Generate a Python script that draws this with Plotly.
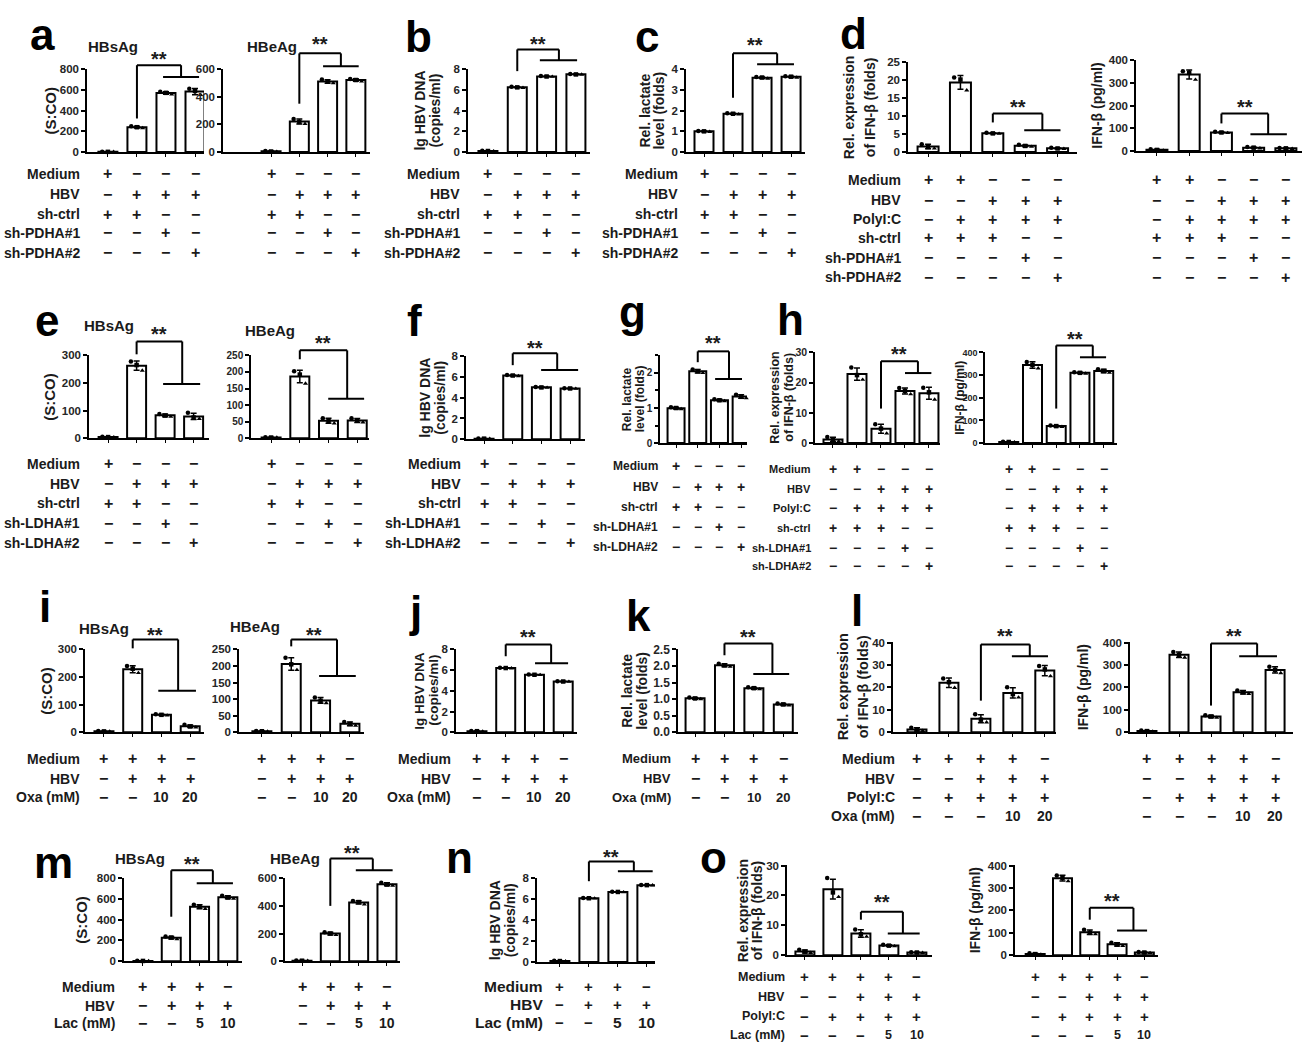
import numpy as np
import plotly.graph_objects as go

W, H = 1304, 1052
FONT = "Liberation Sans, Arial, Helvetica, sans-serif"
INK = "#1b1b1b"
MINUS = "\u2212"

# ---------------- data (replicates per bar) ----------------
a_hbsag = [[3, 2, 2], [250, 240, 232], [582, 572, 558], [612, 590, 552]]
a_hbeag = [[8, 4, 3], [240, 218, 205], [525, 510, 500], [530, 522, 512]]
b_dna = [[0.12, 0.1, 0.08], [6.3, 6.25, 6.2], [7.35, 7.3, 7.28], [7.55, 7.5, 7.48]]
c_lac = [[1.02, 1.0, 0.98], [1.88, 1.85, 1.82], [3.62, 3.6, 3.55], [3.66, 3.64, 3.6]]
d_rel = [[2.2, 1.4, 1.0], [20.8, 20.2, 17.2], [5.4, 5.2, 5.1], [2.0, 1.7, 1.5], [1.2, 1.0, 0.9]]
d_ifn = [[8, 5, 3], [352, 345, 315], [85, 82, 80], [18, 15, 12], [14, 12, 10]]
e_hbsag = [[5, 4, 3], [278, 265, 245], [88, 82, 78], [92, 75, 70]]
e_hbeag = [[3, 2, 2], [202, 192, 165], [60, 52, 45], [60, 53, 48]]
f_dna = [[0.06, 0.05, 0.04], [6.2, 6.15, 6.1], [5.05, 5.0, 4.98], [4.92, 4.9, 4.88]]
g_lac = [[1.02, 1.0, 0.97], [2.1, 2.05, 2.0], [1.25, 1.22, 1.2], [1.38, 1.32, 1.28]]
h_rel = [[2.0, 1.1, 0.6], [25.0, 22.5, 21.0], [6.2, 4.8, 3.2], [18.2, 17.3, 16.2], [18.3, 16.8, 14.4]]
h_ifn = [[6, 5, 4], [358, 345, 330], [78, 75, 72], [313, 310, 307], [326, 318, 311]]
i_hbsag = [[4, 3, 3], [240, 230, 215], [65, 63, 61], [27, 21, 18]]
i_hbeag = [[4, 3, 2], [225, 205, 188], [105, 95, 88], [31, 25, 20]]
j_dna = [[0.12, 0.1, 0.08], [6.22, 6.2, 6.18], [5.57, 5.55, 5.53], [4.92, 4.9, 4.88]]
k_lac = [[1.05, 1.02, 1.0], [2.07, 2.02, 1.98], [1.36, 1.33, 1.3], [0.87, 0.84, 0.81]]
l_rel = [[2.0, 1.2, 0.6], [24.0, 22.3, 19.8], [8.0, 5.6, 4.4], [20.0, 17.0, 15.5], [29.5, 28.0, 25.0]]
l_ifn = [[8, 5, 3], [358, 345, 333], [76, 70, 65], [186, 178, 171], [292, 278, 264]]
m_hbsag = [[3, 2, 2], [238, 228, 212], [545, 525, 505], [632, 615, 603]]
m_hbeag = [[4, 3, 2], [210, 200, 190], [435, 428, 412], [568, 555, 548]]
n_dna = [[0.12, 0.1, 0.08], [6.12, 6.1, 6.08], [6.72, 6.7, 6.68], [7.37, 7.35, 7.33]]
o_rel = [[1.8, 1.2, 0.8], [25.8, 21.0, 19.5], [8.6, 7.0, 6.2], [3.5, 3.2, 3.0], [1.0, 0.9, 0.8]]
o_ifn = [[9, 5, 3], [356, 345, 330], [113, 100, 94], [56, 47, 42], [14, 12, 10]]

# ---------------- treatment tables ----------------
P, M = "+", MINUS
rows_pdha = ["Medium", "HBV", "sh-ctrl", "sh-PDHA#1", "sh-PDHA#2"]
rows_pdha_ifn = ["Medium", "HBV", "PolyI:C", "sh-ctrl", "sh-PDHA#1", "sh-PDHA#2"]
rows_ldha = ["Medium", "HBV", "sh-ctrl", "sh-LDHA#1", "sh-LDHA#2"]
rows_ldha_ifn = ["Medium", "HBV", "PolyI:C", "sh-ctrl", "sh-LDHA#1", "sh-LDHA#2"]
rows_oxa = ["Medium", "HBV", "Oxa (mM)"]
rows_oxa_ifn = ["Medium", "HBV", "PolyI:C", "Oxa (mM)"]
rows_lac = ["Medium", "HBV", "Lac (mM)"]
rows_lac_ifn = ["Medium", "HBV", "PolyI:C", "Lac (mM)"]

sym_sh4 = [[P, M, M, M], [M, P, P, P], [P, P, M, M], [M, M, P, M], [M, M, M, P]]
sym_sh5 = [[P, P, M, M, M], [M, M, P, P, P], [M, P, P, P, P], [P, P, P, M, M],
           [M, M, M, P, M], [M, M, M, M, P]]
sym_oxa4 = [[P, P, P, M], [M, P, P, P], [M, M, "10", "20"]]
sym_oxa5 = [[P, P, P, P, M], [M, M, P, P, P], [M, P, P, P, P], [M, M, M, "10", "20"]]
sym_lac4 = [[P, P, P, M], [M, P, P, P], [M, M, "5", "10"]]
sym_lac5 = [[P, P, P, P, M], [M, M, P, P, P], [M, P, P, P, P], [M, M, M, "5", "10"]]

T_SCO = ["(S:CO)"]
T_DNA = ["lg HBV DNA", "(copies/ml)"]
T_LAC = ["Rel. lactate", "level (folds)"]
T_REL = ["Rel. expression", "of IFN-\u03b2 (folds)"]
T_IFN = ["IFN-\u03b2 (pg/ml)"]
T_HBS = "HBsAg"
T_HBE = "HBeAg"

# ---------------- layout specs (pixel geometry) ----------------
ry_a = [169, 190, 210, 229, 249]
ry_d = [175, 196, 215, 234, 254, 274]
ry_e = [463, 483, 503, 523, 543]
ry_g = [465, 486, 507, 527, 547]
ry_h = [468, 488, 508, 528, 548, 567]
ry_i = [762, 782, 801]
ry_l = [762, 782, 801, 820]
ry_m = [993, 1012, 1030]
ry_n = [993, 1011, 1029]
ry_o = [983, 1003, 1023, 1042]

SPECS = [
    dict(data=a_hbsag, box=(87, 204, 147, 63), xr=(-0.72, 3.31), ymax=800, dtick=200,
         yt=(T_SCO, [51], 15), title=(T_HBS, 86, 40), br=(1, 2.52, 1.9, 3.14, 59, 71, 113), star=49,
         rows=(ry_a, rows_pdha, 82), syms=sym_sh4),
    dict(data=a_hbeag, box=(223, 370, 147, 63), xr=(-1.7, 3.5), ymax=600, dtick=200,
         title=(T_HBE, 245, 40), br=(1, 2.47, 1.84, 3.1, 47, 60, 98), star=33,
         rows=(ry_a, None, 0), syms=sym_sh4),
    dict(data=b_dna, box=(468, 590, 147, 63), xr=(-0.68, 3.48), ymax=8, dtick=2,
         yt=(T_DNA, [420, 435], 14), br=(1, 2.42, 1.77, 3.04, 43, 54, 65), star=33,
         rows=(ry_a, rows_pdha, 462), syms=sym_sh4),
    dict(data=c_lac, box=(686, 805, 147, 63), xr=(-0.62, 3.48), ymax=4, dtick=1,
         yt=(T_LAC, [645, 659], 14), br=(1, 2.52, 1.83, 3.1, 47, 58, 92), star=35,
         rows=(ry_a, rows_pdha, 680), syms=sym_sh4),
    dict(data=d_rel, box=(908, 1077, 147, 56), xr=(-0.62, 4.6), ymax=25, dtick=5, barpx=21,
         yt=(T_REL, [849, 870], 14), br=(2, 3.53, 2.97, 4.09, 108, 125, 117), star=97,
         rows=(ry_d, rows_pdha_ifn, 903), syms=sym_sh5),
    dict(data=d_ifn, box=(1136, 1302, 146, 54), xr=(-0.65, 4.5), ymax=400, dtick=100, barpx=21,
         yt=(T_IFN, [1097], 14), br=(2, 3.45, 2.9, 4.03, 108, 129, 118), star=97,
         rows=(ry_d, None, 0), syms=sym_sh5),
    dict(data=e_hbsag, box=(89, 209, 437, 353), xr=(-0.67, 3.54), ymax=300, dtick=100,
         yt=(T_SCO, [50], 15), title=(T_HBS, 82, 323), br=(1, 2.6, 1.93, 3.23, 339, 382, 352), star=327,
         rows=(ry_e, rows_ldha, 82), syms=sym_sh4),
    dict(data=e_hbeag, box=(251, 369, 437, 353), xr=(-0.7, 3.41), ymax=250, dtick=50, tickfs=10,
         title=(T_HBE, 243, 328), br=(1, 2.65, 1.99, 3.24, 348, 397, 357), star=337,
         rows=(ry_e, None, 0), syms=sym_sh4),
    dict(data=f_dna, box=(466, 585, 438, 354), xr=(-0.63, 3.52), ymax=8, dtick=2,
         yt=(T_DNA, [425, 440], 14), br=(1, 2.55, 1.99, 3.28, 351, 368, 363), star=342,
         rows=(ry_e, rows_ldha, 463), syms=sym_sh4),
    dict(data=g_lac, box=(660, 747, 442, 353), xr=(-0.74, 3.27), ymax=2.5, dtick=1, minor=0.5,
         barpx=17, tickfs=10, labfs=12, symfs=14,
         yt=(T_LAC, [627, 640], 12), br=(1, 2.44, 1.8, 3.04, 349, 377, 360), star=337,
         rows=(ry_g, rows_ldha, 660), syms=sym_sh4),
    dict(data=h_rel, box=(815, 940, 442, 350), xr=(-0.75, 4.46), ymax=30, dtick=10,
         tickfs=10.5, labfs=11, symfs=14,
         yt=(T_REL, [775, 789], 12.5), br=(2, 3.54, 3.0, 4.1, 359, 371, 407), star=348,
         rows=(ry_h, rows_ldha_ifn, 813), syms=sym_sh5),
    dict(data=h_ifn, box=(985, 1117, 442, 350), xr=(-1.0, 4.56), ymax=400, dtick=100,
         tickfs=9, symfs=14,
         yt=(T_IFN, [960], 12), br=(2, 3.54, 3.0, 4.1, 343, 355, 407), star=332,
         rows=(ry_h, None, 0), syms=sym_sh5),
    dict(data=i_hbsag, box=(85, 204, 735, 651), xr=(-0.66, 3.48), ymax=300, dtick=100,
         yt=(T_SCO, [47], 15), title=(T_HBS, 77, 630), br=(1, 2.58, 1.89, 3.2, 641, 693, 650), star=632,
         rows=(ry_i, rows_oxa, 82), syms=sym_oxa4),
    dict(data=i_hbeag, box=(239, 364, 735, 651), xr=(-0.78, 3.48), ymax=250, dtick=50,
         title=(T_HBE, 228, 628), br=(1, 2.56, 1.95, 3.2, 641, 678, 648), star=632,
         rows=(ry_i, None, 0), syms=sym_oxa4),
    dict(data=j_dna, box=(456, 577, 735, 651), xr=(-0.73, 3.48), ymax=8, dtick=2,
         yt=(T_DNA, [420, 434], 13.5), br=(1, 2.58, 2.02, 3.17, 646, 665, 658), star=635,
         rows=(ry_i, rows_oxa, 453), syms=sym_oxa4),
    dict(data=k_lac, box=(678, 798, 735, 651), xr=(-0.58, 3.5), ymax=2.5, dtick=0.5, fmt=".1f",
         tickfs=12, labfs=13,
         yt=(T_LAC, [627, 642], 14), br=(1, 2.63, 1.98, 3.2, 645, 676, 657), star=635,
         rows=(ry_i, rows_oxa, 673), syms=sym_oxa4),
    dict(data=l_rel, box=(893, 1056, 735, 644), xr=(-0.75, 4.35), ymax=40, dtick=10,
         yt=(T_REL, [843, 863], 14.5), br=(2, 3.53, 2.97, 4.1, 646, 658, 703), star=633,
         rows=(ry_l, rows_oxa_ifn, 897), syms=sym_oxa5),
    dict(data=l_ifn, box=(1130, 1293, 735, 644), xr=(-0.53, 4.56), ymax=400, dtick=100,
         yt=(T_IFN, [1083], 14), br=(2, 3.44, 2.88, 4.06, 645, 658, 708), star=633,
         rows=(ry_l, None, 0), syms=sym_oxa5),
    dict(data=m_hbsag, box=(124, 242, 967, 883), xr=(-0.67, 3.5), ymax=800, dtick=200,
         yt=(T_SCO, [82], 15), title=(T_HBS, 113, 863), br=(1, 2.47, 1.9, 3.18, 875, 888, 922), star=865,
         rows=(ry_m, rows_lac, 117), syms=sym_lac4),
    dict(data=m_hbeag, box=(285, 400, 967, 883), xr=(-0.6, 3.46), ymax=600, dtick=200,
         title=(T_HBE, 268, 863), br=(1, 2.5, 1.9, 3.2, 863, 875, 911), star=853,
         rows=(ry_m, None, 0), syms=sym_lac4),
    dict(data=n_dna, box=(537, 655, 968, 883), xr=(-0.79, 3.28), ymax=8, dtick=2, labfs=15.5, symfs=15,
         yt=(T_DNA, [495, 510], 14), br=(1, 2.55, 2.0, 3.2, 866, 876, 886), star=857,
         rows=(ry_n, rows_lac, 545), syms=sym_lac4),
    dict(data=o_rel, box=(787, 932, 961, 870), xr=(-0.64, 4.54), ymax=30, dtick=10, labfs=12.5, symfs=15,
         yt=(T_REL, [743, 757], 14), br=(2, 3.5, 2.96, 4.1, 917, 939, 925), star=903,
         rows=(ry_o, rows_lac_ifn, 787), syms=sym_lac5),
    dict(data=o_ifn, box=(1015, 1158, 961, 870), xr=(-0.74, 4.5), ymax=400, dtick=100, labfs=12.5, symfs=15,
         yt=(T_IFN, [975], 14), br=(2, 3.6, 3.0, 4.1, 913, 936, 925), star=902,
         rows=(ry_o, None, 0), syms=sym_lac5),
]

# panel letters: (letter, x center px, baseline px)
LETTERS = [("a", 43, 43), ("b", 419, 45), ("c", 647, 45), ("d", 853, 42),
           ("e", 47, 333), ("f", 414, 333), ("g", 632, 324), ("h", 790, 332),
           ("i", 45, 623), ("j", 415, 628), ("k", 638, 632), ("l", 857, 627),
           ("m", 54, 882), ("n", 459, 877), ("o", 714, 877)]

# ---------------- build ----------------
def fx(px):
    return px / W


def fy(py):
    return 1 - py / H


def tfont(size, color=INK):
    return dict(family=FONT, size=size, color=color, weight="bold")


fig = go.Figure()
annotations, shapes, axes = [], [], {}
REP_SYMBOLS = ["circle", "square", "triangle-up"]

for n, spec in enumerate(SPECS, start=1):
    reps = spec["data"]
    k = len(reps)
    xs = list(range(k))
    means = [float(np.mean(r)) for r in reps]
    sds = [float(np.std(r, ddof=1)) for r in reps]
    x0, x1, yb, yt = spec["box"]
    lo, hi = spec["xr"]
    step = (x1 - x0) / (hi - lo)
    bw = spec.get("barpx", 19) / step
    xa = "x" if n == 1 else f"x{n}"
    ya = "y" if n == 1 else f"y{n}"

    fig.add_trace(go.Bar(
        x=xs, y=means, xaxis=xa, yaxis=ya, width=bw,
        marker=dict(color="white", line=dict(color="black", width=2)),
        error_y=dict(type="data", array=sds, color="black", thickness=1.5, width=3),
        showlegend=False, hoverinfo="skip"))
    offs = [-0.3 * bw, 0.0, 0.3 * bw]
    px_, py_, ms = [], [], []
    for i, r in enumerate(reps):
        for j, v in enumerate(r):
            px_.append(i + offs[j])
            py_.append(v)
            ms.append(REP_SYMBOLS[j])
    fig.add_trace(go.Scatter(
        x=px_, y=py_, mode="markers", xaxis=xa, yaxis=ya, cliponaxis=False,
        marker=dict(color="black", size=4.5, symbol=ms), showlegend=False, hoverinfo="skip"))

    xname = "xaxis" if n == 1 else f"xaxis{n}"
    yname = "yaxis" if n == 1 else f"yaxis{n}"
    axes[xname] = dict(
        domain=[fx(x0), fx(x1)], anchor=ya, range=[lo, hi],
        showline=True, linecolor="black", linewidth=1.5,
        ticks="outside", ticklen=3, tickwidth=1, tickcolor="black",
        tickvals=xs, ticktext=[""] * k, showgrid=False, zeroline=False, fixedrange=True)
    yax = dict(
        domain=[fy(yb), fy(yt)], anchor=xa, range=[0, spec["ymax"] * 1.001],
        tick0=0, dtick=spec["dtick"], tickformat=spec.get("fmt", ""),
        showline=True, linecolor="black", linewidth=1.5,
        ticks="outside", ticklen=4, tickwidth=1.5, tickcolor="black",
        tickfont=tfont(spec.get("tickfs", 11.5), "#262626"),
        showgrid=False, zeroline=False, fixedrange=True)
    if "minor" in spec:
        yax["minor"] = dict(dtick=spec["minor"], ticks="outside", ticklen=3,
                            tickwidth=1.5, tickcolor="black")
    axes[yname] = yax

    # y-axis title (one annotation per line, rotated)
    if "yt" in spec:
        lines, xs_px, fs = spec["yt"]
        for text, tx in zip(lines, xs_px):
            annotations.append(dict(xref="paper", yref="paper", x=fx(tx), y=fy((yb + yt) / 2),
                                    text=text, textangle=-90, showarrow=False,
                                    xanchor="center", yanchor="middle", font=tfont(fs)))
    # subplot title
    if "title" in spec:
        text, tx, ty = spec["title"]
        annotations.append(dict(xref="paper", yref="paper", x=fx(tx), y=fy(ty), text=text,
                                showarrow=False, xanchor="left", yanchor="middle", font=tfont(15)))
    # significance bracket
    L, D, s, e, top, low, lb = spec["br"]
    for (ax0, ay0, ax1, ay1) in [(L, lb, L, top), (L, top, D, top), (D, top, D, low), (s, low, e, low)]:
        shapes.append(dict(type="line", xref=xa, yref="paper", x0=ax0, x1=ax1,
                           y0=fy(ay0), y1=fy(ay1), line=dict(color="black", width=2)))
    annotations.append(dict(xref=xa, yref="paper", x=(L + D) / 2, y=fy(spec["star"] + 4),
                            text="**", showarrow=False, xanchor="center", yanchor="middle",
                            font=tfont(20)))
    # treatment table
    rows_y, labels, lab_right = spec["rows"]
    labfs = spec.get("labfs", 14)
    symfs = spec.get("symfs", 16)
    for r, yy in enumerate(rows_y):
        if labels:
            annotations.append(dict(xref="paper", yref="paper", x=fx(lab_right), y=fy(yy),
                                    text=labels[r], showarrow=False, xanchor="right",
                                    yanchor="middle", font=tfont(labfs)))
        for i, sym in enumerate(spec["syms"][r]):
            sign = sym in (P, M)
            annotations.append(dict(xref=xa, yref="paper", x=i, y=fy(yy), text=sym,
                                    showarrow=False, xanchor="center", yanchor="middle",
                                    font=tfont(symfs if sign else labfs)))

for letter, cx, base in LETTERS:
    fs = 44
    annotations.append(dict(xref="paper", yref="paper", x=fx(cx), y=fy(base - 0.35 * fs),
                            text=letter, showarrow=False, xanchor="center", yanchor="middle",
                            font=dict(family=FONT, size=fs, color="black", weight="bold")))

fig.update_layout(
    width=W, height=H, margin=dict(l=0, r=0, t=0, b=0),
    paper_bgcolor="white", plot_bgcolor="white", showlegend=False,
    font=dict(family=FONT, color=INK),
    annotations=annotations, shapes=shapes, **axes)

fig.write_html("out.html", config={"displayModeBar": False},
               post_script="document.body.style.margin='0px';document.body.style.padding='0px';")
